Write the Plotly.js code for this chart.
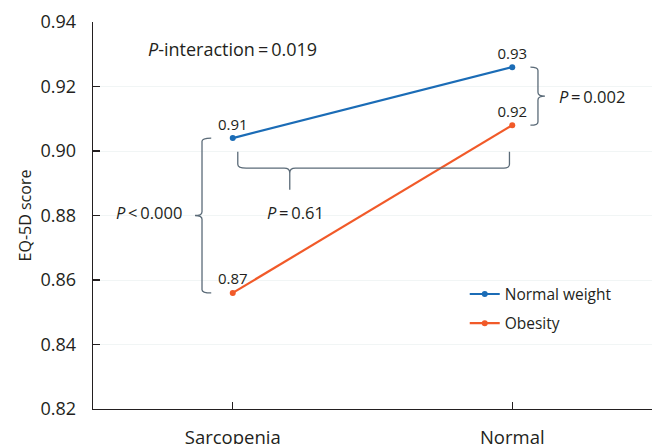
<!DOCTYPE html>
<html>
<head>
<meta charset="utf-8">
<script src="https://cdn.plot.ly/plotly-3.0.1.min.js"></script>
<style>html,body{margin:0;padding:0;background:#fff;}#chart{width:657px;height:444px;}</style>
</head>
<body>
<div id="chart"></div>
<script>
// ---- data ----
const categories = ['Sarcopenia', 'Normal'];
const catPos = [0, 1];
const normalWeight = [0.904, 0.926];
const obesity = [0.856, 0.908];
const normalWeightLabels = ['0.91', '0.93'];
const obesityLabels = ['0.87', '0.92'];
const yTickVals = [0.82, 0.84, 0.86, 0.88, 0.90, 0.92, 0.94];
const yTickText = ['0.82', '0.84', '0.86', '0.88', '0.90', '0.92', '0.94'];
const seriesNames = ['Normal weight', 'Obesity'];

const FONT = 'Open Sans, Noto Sans, sans-serif';
const TXT = '#231f20';
const BR = '#5b6b78';

const traces = [
  {
    x: catPos, y: normalWeight, name: seriesNames[0], legendgroup: 'a', mode: 'lines+markers+text',
    text: normalWeightLabels, textposition: 'top center',
    textfont: {family: FONT, size: 15, color: TXT},
    line: {color: '#1b6cb6', width: 2.2}, marker: {color: '#1b6cb6', size: 6},
    cliponaxis: false
  },
  {
    x: catPos, y: obesity, name: seriesNames[1], legendgroup: 'b', mode: 'lines+markers+text',
    text: obesityLabels, textposition: 'top center',
    textfont: {family: FONT, size: 15, color: TXT},
    line: {color: '#f15a29', width: 2.2}, marker: {color: '#f15a29', size: 6},
    cliponaxis: false
  }
];

// brace paths (decorations) built from the data values
function P(x, y) { return x + ',' + y; }
// left vertical brace between the two sarcopenia points
const lx = catPos[0] - 0.11, lTop = normalWeight[0], lBot = obesity[0], lMid = (lTop + lBot) / 2;
const leftBrace = 'M' + P(lx + 0.033, lTop) + ' Q' + P(lx, lTop) + ' ' + P(lx, lTop - 0.001) +
  ' L' + P(lx, lMid + 0.0012) + ' Q' + P(lx, lMid) + ' ' + P(lx - 0.025, lMid) +
  ' Q' + P(lx, lMid) + ' ' + P(lx, lMid - 0.0012) +
  ' L' + P(lx, lBot + 0.001) + ' Q' + P(lx, lBot) + ' ' + P(lx + 0.033, lBot);
// right vertical brace between the two normal points
const rx = catPos[1] + 0.092, rTop = normalWeight[1], rBot = obesity[1], rMid = (rTop + rBot) / 2;
const rightBrace = 'M' + P(rx - 0.027, rTop) + ' Q' + P(rx, rTop) + ' ' + P(rx, rTop - 0.001) +
  ' L' + P(rx, rMid + 0.0012) + ' Q' + P(rx, rMid) + ' ' + P(rx + 0.025, rMid) +
  ' Q' + P(rx, rMid) + ' ' + P(rx, rMid - 0.0012) +
  ' L' + P(rx, rBot + 0.001) + ' Q' + P(rx, rBot) + ' ' + P(rx - 0.027, rBot);
// horizontal brace
const hL = catPos[0] + 0.018, hR = catPos[1] - 0.01, hTop = 0.8998, hY = 0.8947, nX = 0.204, nY = 0.888;
const bottomBrace = 'M' + P(hL, hTop) + ' L' + P(hL, hY + 0.0012) + ' Q' + P(hL, hY) + ' ' + P(hL + 0.03, hY) +
  ' L' + P(nX - 0.02, hY) + ' Q' + P(nX, hY) + ' ' + P(nX, hY - 0.0015) + ' L' + P(nX, nY) +
  ' M' + P(nX, hY - 0.0015) + ' Q' + P(nX, hY) + ' ' + P(nX + 0.02, hY) +
  ' L' + P(hR - 0.02, hY) + ' Q' + P(hR, hY) + ' ' + P(hR, hY + 0.0012) + ' L' + P(hR, hTop);

const shapes = [leftBrace, rightBrace, bottomBrace].map(p => ({
  type: 'path', xref: 'x', yref: 'y', path: p, line: {color: BR, width: 1.3}
}));

const annFont = {family: FONT, size: 16.5, color: TXT};
const annotations = [
  {x: 0, y: 0.9317, text: '<i>P</i>-interaction\u2009=\u20090.019', font: {family: FONT, size: 18, color: TXT}},
  {x: 1.287, y: (rTop + rBot) / 2, text: '<i>P</i>\u2009=\u20090.002', font: annFont},
  {x: -0.298, y: 0.8808, text: '<i>P</i>\u2009<\u20090.000', font: annFont},
  {x: 0.225, y: 0.8808, text: '<i>P</i>\u2009=\u20090.61', font: annFont}
].map(a => Object.assign({xref: 'x', yref: 'y', showarrow: false, xanchor: 'center', yanchor: 'middle'}, a));

const layout = {
  width: 657, height: 444,
  margin: {l: 93, r: 5, t: 22, b: 35},
  paper_bgcolor: '#fff', plot_bgcolor: '#fff',
  font: {family: FONT, color: TXT},
  showlegend: true,
  legend: {x: 0.665, y: 0.34, xanchor: 'left', yanchor: 'top', font: {family: FONT, size: 15.5, color: TXT},
           bgcolor: 'rgba(0,0,0,0)', traceorder: 'grouped', tracegroupgap: 6, itemwidth: 30},
  xaxis: {
    range: [-0.5, 1.5], tickvals: catPos, ticktext: categories,
    showline: true, linecolor: '#231f20', linewidth: 1.3,
    ticks: 'inside', ticklen: 7, tickcolor: '#231f20', tickwidth: 1.2,
    showgrid: false, zeroline: false, fixedrange: true,
    tickfont: {family: FONT, size: 18.5, color: TXT}, ticklabelstandoff: 11
  },
  yaxis: {
    range: [0.82, 0.94], tickvals: yTickVals, ticktext: yTickText,
    showline: true, linecolor: '#231f20', linewidth: 1.3,
    ticks: 'inside', ticklen: 7, tickcolor: '#231f20', tickwidth: 1.2,
    showgrid: true, gridcolor: '#f1f5f5', gridwidth: 1, zeroline: false,
    tickfont: {family: FONT, size: 18, color: TXT}, ticklabelstandoff: 12,
    title: {text: 'EQ-5D score', font: {family: FONT, size: 16, color: TXT}, standoff: 5}
  },
  shapes: shapes,
  annotations: annotations
};

Plotly.newPlot('chart', traces, layout, {displayModeBar: false, staticPlot: true});
</script>
</body>
</html>
